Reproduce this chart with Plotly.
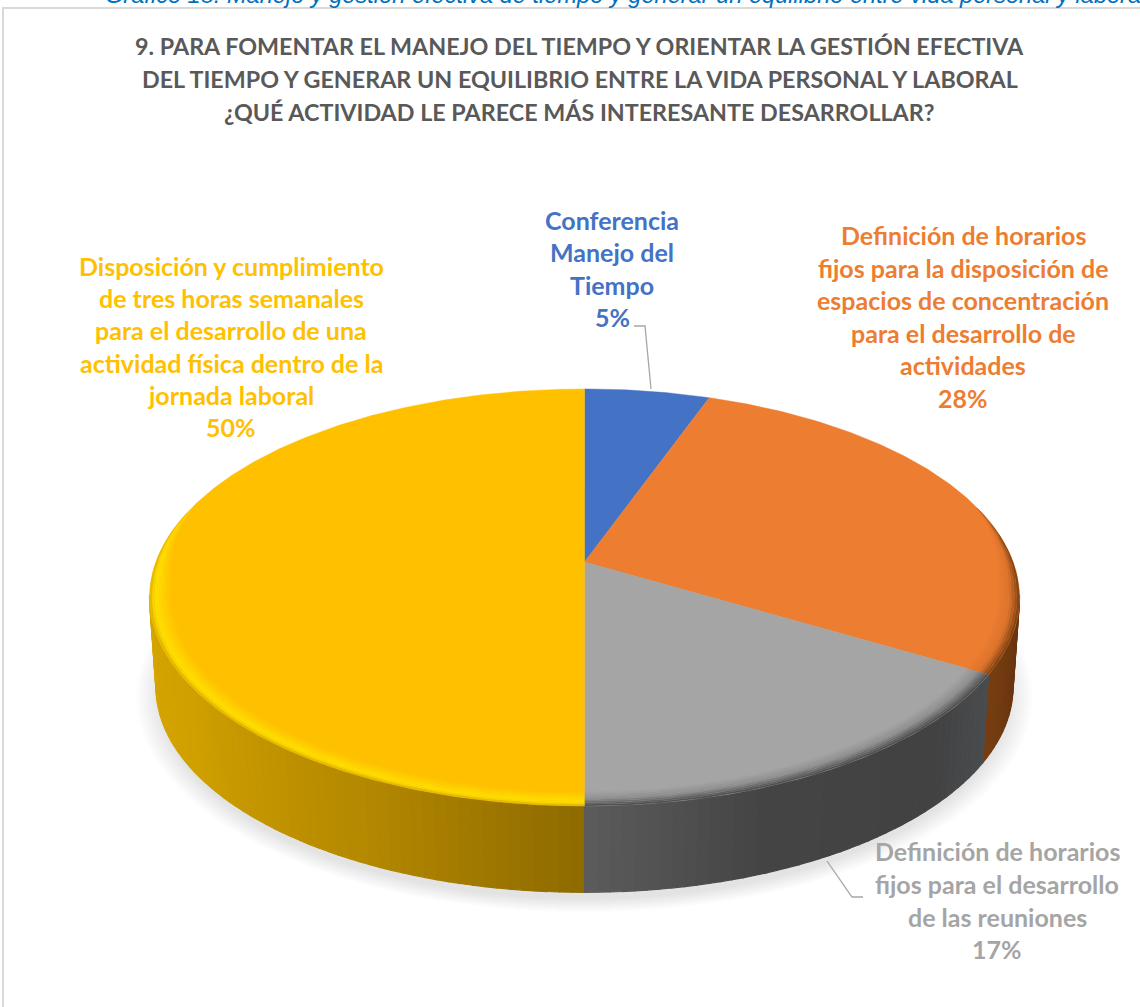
import numpy as np
import plotly.graph_objects as go

# ---- data ----
categories = [
    "Conferencia Manejo del Tiempo",
    "Definición de horarios fijos para la disposición de espacios de concentración para el desarrollo de actividades",
    "Definición de horarios fijos para el desarrollo de las reuniones",
    "Disposición y cumplimiento de tres horas semanales para el desarrollo de una actividad física dentro de la jornada laboral",
]
values = [5.48, 28.0, 16.52, 50.0]
percent_labels = ["5%", "28%", "17%", "50%"]
title_lines = [
    "9. PARA FOMENTAR EL MANEJO DEL TIEMPO Y ORIENTAR LA GESTIÓN EFECTIVA",
    "DEL TIEMPO Y GENERAR UN EQUILIBRIO ENTRE LA VIDA PERSONAL Y LABORAL",
    "¿QUÉ ACTIVIDAD LE PARECE MÁS INTERESANTE DESARROLLAR?",
]
caption = "Gráfico 18: Manejo y gestión efectiva de tiempo y generar un equilibrio entre vida personal y laboral"

# ---- styles ----
top_colors = ["#4472C4", "#ED7D31", "#A5A5A5", "#FFC000"]
FONT = "Lato, 'Open Sans', sans-serif"

# perspective disc -> page pixels
CX, CY, A, B, K = 584.5, 562.0, 202.5, 428.7, 0.17
DEPTH, SCALE = 90.0, 0.985


def proj(theta, r=1.0):
    s, c = np.sin(theta) * r, np.cos(theta) * r
    w = 1 + K * c
    return B * s / w, -A * c / w


def top_ring(theta, r=1.0):
    x, y = proj(theta, r)
    return CX + x, CY + y


def low_ring(theta, scale=SCALE, dy=DEPTH, dr=0.0):
    x, y = proj(theta, 1.0)
    return CX + x * (scale + dr), CY + dy + y * (scale + dr)


def hex2rgb(h):
    return np.array([int(h[i:i + 2], 16) for i in (1, 3, 5)], float)


def mix(stops, t):
    ts = [s[0] for s in stops]
    cols = np.array([hex2rgb(s[1]) for s in stops])
    rgb = [np.interp(t, ts, cols[:, i]) for i in range(3)]
    return "rgb(%d,%d,%d)" % tuple(rgb)


fig = go.Figure()


def poly(x, y, color, lw=0.7):
    fig.add_trace(go.Scatter(
        x=np.asarray(x), y=np.asarray(y), mode="lines", fill="toself",
        fillcolor=color, line=dict(color=color, width=lw),
        hoverinfo="skip", showlegend=False))


edges = np.radians(np.concatenate([[0], np.cumsum(values)]) * 3.6)

# soft shadow under the disc
full = np.linspace(0, 2 * np.pi, 181)
for i in range(14):
    sx, sy = low_ring(full, dy=DEPTH + 9, dr=0.045 - i * 0.0042)
    poly(sx, sy, "rgba(60,60,70,0.012)", lw=0)

# side wall, as thin vertical strips shaded across the visible rim
wall_stops = [
    [[np.radians(60), "#6A350E"], [np.radians(100), "#63320F"], [np.radians(125), "#7C4112"]],
    [[np.radians(60), "#6A350E"], [np.radians(100), "#63320F"], [np.radians(125), "#7C4112"]],
    [[edges[2], "#4A4D50"], [np.radians(135), "#424242"], [np.radians(160), "#454545"], [edges[3], "#5C5C5C"]],
    [[np.pi, "#8E6B00"], [np.radians(205), "#B48800"], [np.radians(235), "#D0A000"], [np.radians(270), "#D9A900"]],
]
spans = [None,
         (np.radians(99), edges[2]),
         (edges[2], edges[3]),
         (edges[3], np.radians(261))]
for idx in (1, 3, 2):
    a, b = spans[idx]
    n = max(4, int((b - a) / np.radians(1.4)))
    th = np.linspace(a, b, n + 1)
    pairs = list(zip(th[:-1], th[1:]))
    if idx == 3:
        pairs = pairs[::-1]
    for t0, t1 in pairs:
        tx0, ty0 = top_ring(t0)
        tx1, ty1 = top_ring(t1)
        lx0, ly0 = low_ring(t0)
        lx1, ly1 = low_ring(t1)
        poly([tx0, tx1, lx1, lx0, tx0], [ty0, ty1, ly1, ly0, ty0],
             mix(wall_stops[idx], (t0 + t1) / 2), lw=1.2)

# top face sectors
for i, col in enumerate(top_colors):
    th = np.linspace(edges[i], edges[i + 1], max(8, int(values[i] * 6)))
    ex, ey = top_ring(th)
    poly(np.r_[CX, ex, CX], np.r_[CY, ey, CY], col, lw=0.4)

# bevel along the front of the rim
bevel_stops = {
    1: [[0, "#ED7D31"], [0.55, "#DD742D"], [1, "#7C4112"]],
    2: [[0, "#A5A5A5"], [0.5, "#8E8E8E"], [1, "#4A4A4A"]],
    3: [[0, "#FFC000"], [0.7, "#FFE000"], [0.88, "#F5D000"], [1, "#D9A900"]],
}
WIDTH = 0.05
levels = np.linspace(0, 1, 10)


def taper(th):
    return np.clip((0.3 - np.cos(th)) / 0.4, 0, 1)


def rim_r(th, t):
    return 1 - (1 - t) * WIDTH * taper(th)


for idx in (1, 2, 3):
    th = np.linspace(edges[idx], edges[idx + 1], 160)
    th = th[taper(th) > 0.02]
    for t0, t1 in zip(levels[:-1], levels[1:]):
        ix, iy = top_ring(th, rim_r(th, t0))
        ox, oy = top_ring(th, rim_r(th, t1))
        poly(np.r_[ix, ox[::-1], ix[0]], np.r_[iy, oy[::-1], iy[0]],
             mix(bevel_stops[idx], (t0 + t1) / 2), lw=0)

# ---- texts ----
ann = []


def text(s, x, y, size, color, anchor="center", family=FONT, italic=False, bold=True, yshift=0):
    body = s
    if bold:
        body = "<b>%s</b>" % body
    if italic:
        body = "<i>%s</i>" % body
    ann.append(dict(text=body, x=x, y=y, xref="x", yref="y", showarrow=False,
                    xanchor=anchor, yanchor="middle", borderpad=0, yshift=yshift,
                    font=dict(family=family, size=size, color=color)))


text(caption, 104, 0, 23.6, "#0070C0", anchor="left",
     family="'Liberation Sans', Arial, sans-serif", italic=True, bold=False, yshift=5)

for s, x, y in zip(title_lines, (579.5, 580, 578.5), (46, 79, 112)):
    text(s, x, y, 23.3, "#595959")

LABEL = 25
blue = ["Conferencia", "Manejo del", "Tiempo", percent_labels[0]]
for s, y in zip(blue, (220, 252, 285, 317)):
    text(s, 612, y, LABEL, top_colors[0])

orange = ["Definición de horarios", "fijos para la disposición de",
          "espacios de concentración", "para el desarrollo de", "actividades", percent_labels[1]]
for s, y in zip(orange, (235, 268, 300, 333, 365, 398)):
    text(s, 963, y, LABEL, top_colors[1])

gray = ["Definición de horarios", "fijos para el desarrollo", "de las reuniones", percent_labels[2]]
for s, y in zip(gray, (851, 884, 917, 949)):
    text(s, 997, y, LABEL, top_colors[2])

yellow = ["Disposición y cumplimiento", "de tres horas semanales",
          "para el desarrollo de una", "actividad física dentro de la",
          "jornada laboral", percent_labels[3]]
for s, y in zip(yellow, (266, 298, 330, 363, 395, 427)):
    text(s, 231, y, LABEL, top_colors[3])

# leader lines and the chart frame
shapes = [
    dict(type="path", path="M 634 326 L 645 326 L 651 389",
         line=dict(color="#A6A6A6", width=1.3), layer="above"),
    dict(type="path", path="M 827 861 L 852 897 L 863 897",
         line=dict(color="#A6A6A6", width=1.3), layer="above"),
    dict(type="path", path="M 3 1007 L 3 8 L 1140 8",
         line=dict(color="#D9D9D9", width=2), layer="below"),
]

fig.update_layout(
    width=1140, height=1007, autosize=False,
    margin=dict(l=0, r=0, t=0, b=0),
    paper_bgcolor="white", plot_bgcolor="white",
    showlegend=False, annotations=ann, shapes=shapes,
    xaxis=dict(range=[0, 1140], visible=False, fixedrange=True),
    yaxis=dict(range=[1007, 0], visible=False, fixedrange=True),
)

fig.write_html("out.html", config=dict(displayModeBar=False),
               post_script="document.body.style.margin='0';document.body.style.overflow='hidden';")
